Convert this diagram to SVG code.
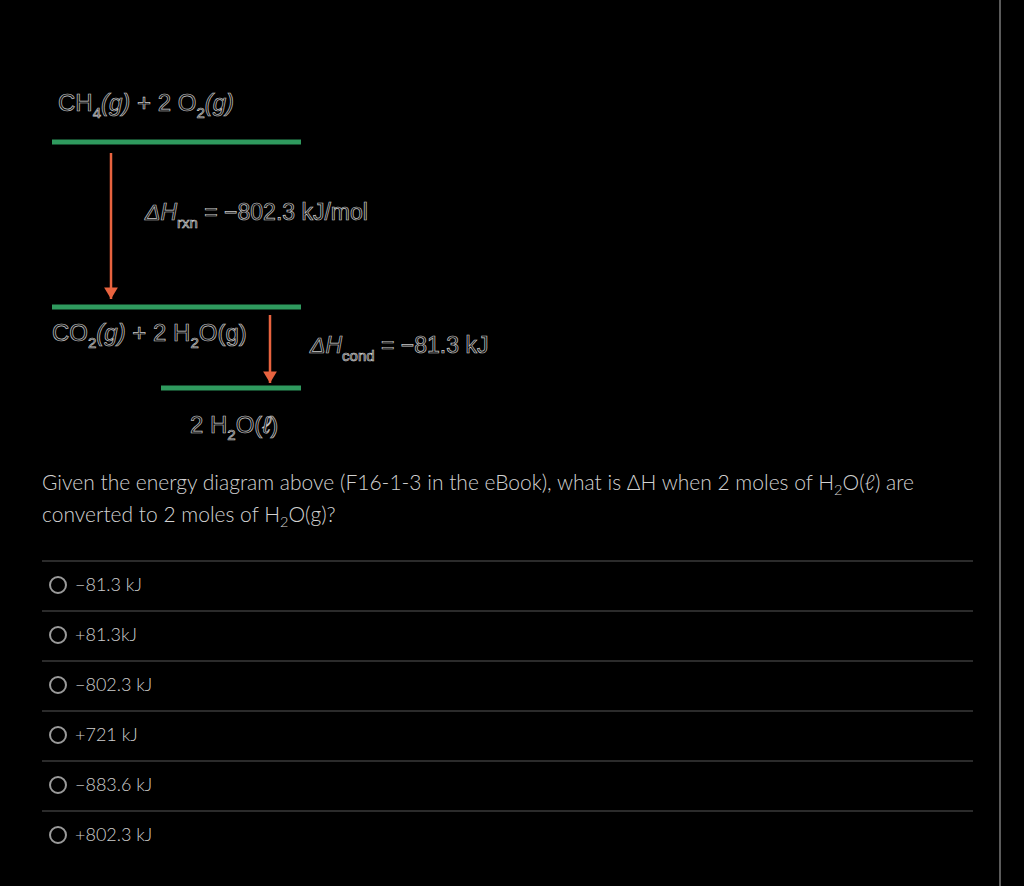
<svg xmlns="http://www.w3.org/2000/svg" width="1024" height="886" viewBox="0 0 1024 886">
<defs>
<style>
.dg{font-family:"Liberation Sans",Arial,sans-serif;font-size:24px;fill:#0c0c0c;stroke:#c8c8c8;stroke-width:0.7}
.dl{font-size:23px}
.dgi{font-style:italic}
.sub{font-size:15px}
.lvl{stroke:#2f9a5e;stroke-width:5}
.arr{stroke:#e8633f;stroke-width:2.5;fill:none}
.q{font-family:Lato,"Open Sans",sans-serif;font-size:21px;fill:#d2d2d2;font-weight:300}
.opt{font-family:Lato,"Open Sans",sans-serif;font-size:18px;fill:#cfcfcf;font-weight:300}
.sep{stroke:#3a3a3a;stroke-width:1.5}
.rad{fill:none;stroke:#9a9a9a;stroke-width:2}
</style>
<marker id="ah" viewBox="0 0 10 12" refX="10" refY="6" markerWidth="5.5" markerHeight="5.5" orient="auto" markerUnits="strokeWidth">
<path d="M0,0 L10,6 L0,12 z" fill="#e8633f"/>
</marker>
</defs>
<rect width="1024" height="886" fill="#000"/>
<line x1="1000" y1="0" x2="1000" y2="886" stroke="#7a7a7a" stroke-width="1.5"/>

<g id="level1">
<line class="lvl" x1="52" y1="142" x2="301" y2="142"/>
<text class="dg" x="58" y="111">CH<tspan class="sub" dy="7">4</tspan><tspan dy="-7" class="dgi">(g)</tspan> + 2 O<tspan class="sub" dy="7">2</tspan><tspan dy="-7" class="dgi">(g)</tspan></text>
</g>
<g id="level2">
<line class="lvl" x1="52" y1="307" x2="301" y2="307"/>
<text class="dg" x="52" y="341">CO<tspan class="sub" dy="7">2</tspan><tspan dy="-7" class="dgi">(g)</tspan> + 2 H<tspan class="sub" dy="7">2</tspan><tspan dy="-7">O(g)</tspan></text>
</g>
<g id="level3">
<line class="lvl" x1="161" y1="388" x2="301" y2="388"/>
<text class="dg" x="190" y="433">2 H<tspan class="sub" dy="7">2</tspan><tspan dy="-7">O(</tspan><tspan class="dgi">ℓ</tspan>)</text>
</g>
<g id="label-rxn">
<text class="dg dl" x="145" y="220"><tspan class="dgi">ΔH</tspan><tspan class="sub" dy="8">rxn</tspan><tspan dy="-8"> = −802.3 kJ/mol</tspan></text>
</g>
<g id="label-cond">
<text class="dg dl" x="310" y="353"><tspan class="dgi">ΔH</tspan><tspan class="sub" dy="8">cond</tspan><tspan dy="-8"> = −81.3 kJ</tspan></text>
</g>
<g id="connectors">
<line class="arr" x1="111" y1="153" x2="111" y2="299" marker-end="url(#ah)"/>
<line class="arr" x1="270" y1="315" x2="270" y2="383" marker-end="url(#ah)"/>
</g>

<g id="question">
<text class="q" x="42" y="490">Given the energy diagram above (F16-1-3 in the eBook), what is ΔH when 2 moles of H<tspan font-size="14.5" dy="5">2</tspan><tspan dy="-5">O(ℓ) are</tspan></text>
<text class="q" x="42" y="522">converted to 2 moles of H<tspan font-size="14.5" dy="5">2</tspan><tspan dy="-5">O(g)?</tspan></text>
</g>
<g id="options">
<line class="sep" x1="42" y1="561" x2="973" y2="561"/>
<circle class="rad" cx="58" cy="585" r="8"/><text class="opt" x="75" y="591">−81.3 kJ</text>
<line class="sep" x1="42" y1="611" x2="973" y2="611"/>
<circle class="rad" cx="58" cy="635" r="8"/><text class="opt" x="75" y="641">+81.3kJ</text>
<line class="sep" x1="42" y1="661" x2="973" y2="661"/>
<circle class="rad" cx="58" cy="685" r="8"/><text class="opt" x="75" y="691">−802.3 kJ</text>
<line class="sep" x1="42" y1="711" x2="973" y2="711"/>
<circle class="rad" cx="58" cy="735" r="8"/><text class="opt" x="75" y="741">+721 kJ</text>
<line class="sep" x1="42" y1="761" x2="973" y2="761"/>
<circle class="rad" cx="58" cy="785" r="8"/><text class="opt" x="75" y="791">−883.6 kJ</text>
<line class="sep" x1="42" y1="811" x2="973" y2="811"/>
<circle class="rad" cx="58" cy="835" r="8"/><text class="opt" x="75" y="841">+802.3 kJ</text>
</g>
</svg>
